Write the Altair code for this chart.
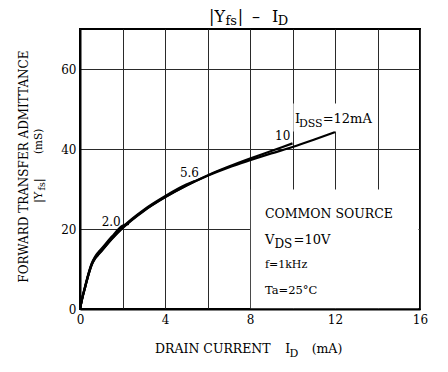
import altair as alt
import pandas as pd

FONT = "DejaVu Serif"

# ---- curve data (I_D in mA, |Yfs| in mS) ----
idss_12_x = [0, 0.1, 0.25, 0.4, 0.55, 0.7, 0.85, 1, 1.5, 2, 3, 4, 5, 6, 7, 8, 9, 10, 11, 12]
idss_12_y = [0, 2.5, 5.6, 8.6, 11.0, 12.5, 13.5, 14.4, 17.5, 20.2, 24.5, 27.9, 30.8, 33.3, 35.4, 37.2, 38.9, 40.5, 42.3, 44.2]
idss_10_x = [0, 0.1, 0.25, 0.4, 0.55, 0.7, 0.85, 1, 1.5, 2, 3, 4, 5, 6, 7, 8, 9, 10]
idss_10_y = [0, 2.5, 5.6, 8.6, 11.1, 12.6, 13.6, 14.5, 17.6, 20.3, 24.6, 28.0, 30.9, 33.4, 35.6, 37.6, 39.5, 41.4]
idss_56_x = [0, 0.1, 0.25, 0.4, 0.55, 0.7, 0.85, 1, 1.5, 2, 3, 4, 5, 5.4]
idss_56_y = [0, 2.6, 5.7, 8.7, 11.2, 12.8, 13.8, 14.7, 17.8, 20.5, 24.8, 28.2, 31.1, 32.0]
idss_20_x = [0, 0.1, 0.25, 0.4, 0.55, 0.7, 0.85, 1, 1.5, 2, 2.3]
idss_20_y = [0, 2.7, 5.9, 8.9, 11.4, 13.0, 14.1, 15.0, 18.1, 20.8, 21.3]

x_ticks = [0, 2, 4, 6, 8, 10, 12, 14, 16]
y_ticks = [0, 10, 20, 30, 40, 50, 60, 70]

rows = []
for name, xs, ys in [("12", idss_12_x, idss_12_y), ("10", idss_10_x, idss_10_y),
                     ("5.6", idss_56_x, idss_56_y), ("2.0", idss_20_x, idss_20_y)]:
    for i, (a, b) in enumerate(zip(xs, ys)):
        rows.append({"series": name, "id": a, "yfs": b, "order": i})
curves = pd.DataFrame(rows)

X = alt.X("id:Q", scale=alt.Scale(domain=[0, 16], nice=False, zero=False),
          axis=alt.Axis(values=x_ticks, grid=True, title=None, ticks=False,
                        labelExpr="datum.value % 4 == 0 ? datum.label : ''",
                        labelPadding=5, labelFontSize=12, labelFont=FONT,
                        labelColor="black", domainColor="black", domainWidth=2,
                        gridColor="#2a2a2a", gridWidth=1, labelFlush=False))
Y = alt.Y("yfs:Q", scale=alt.Scale(domain=[0, 70], nice=False, zero=False),
          axis=alt.Axis(values=y_ticks, grid=True, title=None, ticks=False,
                        labelExpr="datum.value % 20 == 0 && datum.value < 70 ? datum.label : ''",
                        labelPadding=4, labelFontSize=12, labelFont=FONT,
                        labelColor="black", domainColor="black", domainWidth=2,
                        gridColor="#2a2a2a", gridWidth=1, labelFlush=False))

lines = alt.Chart(curves).mark_line(color="black", strokeWidth=2.2, interpolate="monotone").encode(
    x=X, y=Y, detail="series:N", order="order:Q")

# white boxes hiding the grid behind the annotations
boxes = pd.DataFrame({"x1": [8.04, 10.04], "x2": [15.93, 13.96],
                      "y1": [0.2, 44.4], "y2": [29.88, 51.4]})
rects = alt.Chart(boxes).mark_rect(fill="white").encode(
    x="x1:Q", x2="x2:Q", y="y1:Q", y2="y2:Q")

# text pieces: text, x, y (data units), size
texts = [
    # title |Yfs| - ID
    ("|Y", 6.07, 71.75, 16),
    ("fs", 6.85, 71.0, 13),
    ("|", 7.42, 71.75, 16),
    ("\u2013", 8.09, 71.75, 16),
    ("I", 9.04, 71.75, 16),
    ("D", 9.3, 71.0, 13),
    # x axis title
    ("DRAIN CURRENT", 3.53, -11.0, 12.5),
    ("I", 9.66, -11.0, 12.5),
    ("D", 9.86, -12.0, 11),
    ("(mA)", 10.9, -11.0, 12.5),
    # curve labels
    ("2.0", 1.02, 20.75, 12),
    ("5.6", 4.7, 33.0, 12),
    ("10", 9.18, 42.25, 12),
    ("I", 10.12, 46.4, 13),
    ("DSS", 10.3, 45.6, 11),
    ("=12mA", 11.42, 46.4, 13),
    # condition box
    ("COMMON SOURCE", 8.7, 22.75, 12.5),
    ("V", 8.7, 16.25, 13),
    ("DS", 9.15, 15.25, 12),
    ("=10V", 10.05, 16.25, 13),
    ("f=1kHz", 8.7, 10.25, 11),
    ("Ta=25\u00b0C", 8.7, 3.75, 11.5),
]
layers = [rects, lines]
for t, xx, yy, s in texts:
    d = pd.DataFrame({"t": [t], "x": [xx], "y": [yy]})
    layers.append(alt.Chart(d).mark_text(align="left", baseline="alphabetic", fontSize=s,
                                         font=FONT, color="black").encode(
        x="x:Q", y="y:Q", text="t:N"))

# rotated y-axis title (reads bottom to top)
ytexts = [
    ("FORWARD TRANSFER ADMITTANCE", -2.62, 35.6, 12, "center"),
    ("|Y", -1.95, 26.5, 11.5, "left"),
    ("fs", -1.8, 29.6, 9.5, "left"),
    ("|", -1.95, 31.7, 11.5, "left"),
    ("(mS)", -1.95, 38.75, 10.5, "left"),
]
for t, xx, yy, s, al in ytexts:
    d = pd.DataFrame({"t": [t], "x": [xx], "y": [yy]})
    layers.append(alt.Chart(d).mark_text(align=al, baseline="middle", fontSize=s, angle=270,
                                         font=FONT, color="black").encode(
        x="x:Q", y="y:Q", text="t:N"))

chart = alt.layer(*layers).properties(
    width=340, height=280,
    autosize=alt.AutoSizeParams(type="none"),
    padding={"left": 72, "top": 21, "right": 20, "bottom": 50},
).configure_view(stroke="black", strokeWidth=2)

chart.save("out.html", embed_options={"renderer": "svg", "actions": False})
